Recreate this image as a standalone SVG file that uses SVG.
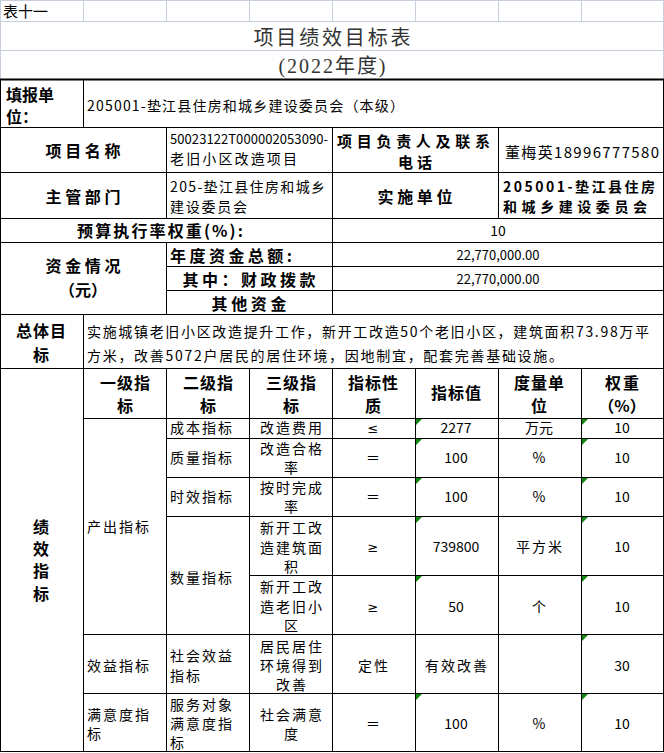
<svg xmlns="http://www.w3.org/2000/svg" width="664" height="753" viewBox="0 0 664 753">
<style>
text{font-family:"Noto Sans CJK SC","Noto Sans",sans-serif;fill:#000}
.n{font-size:14px}
.b{font-size:16px;font-weight:bold}
.c{text-anchor:middle}
.s{font-family:"DejaVu Sans","Liberation Sans",sans-serif;font-size:13px}
.g{stroke:#c6cfdc;stroke-width:1;fill:none}
.k{stroke:#000;stroke-width:1;fill:none}
.tri{fill:#118811}
</style>
<rect width="664" height="753" fill="#fff"/>
<g id="gridlines">
<path class="g" d="M0,0.5H664M0,21.5H664M0,50.5H664M0.5,0V79M663.5,0V79M83.5,0V21M166.5,0V21M249.5,0V21M332.5,0V21M415.5,0V21M498.5,0V21M581.5,0V21"/>
</g>
<g id="connectors">
<path class="k" d="M0,127.5H664M0,172.5H664M0,218.5H664M0,242.5H664M166,266.5H664M166,290.5H664M0,314.5H664M0,368.5H664M83,418.5H664M166,438.5H664M166,477.5H664M166,516.5H664M249,575.5H664M83,634.5H664M83,693.5H664M0,751.5H664"/>
<path class="k" d="M0.5,79V752M663.5,79V752M83.5,79V127M83.5,314V752M166.5,127V218M166.5,242V314M166.5,368V752M249.5,368V752M332.5,127V314M332.5,368V752M415.5,368V752M498.5,127V218M498.5,368V752M581.5,368V752"/>
<path d="M0,79.5H664" stroke="#000" stroke-width="2"/>
</g>
<g id="title">
<text x="3" y="17" class="n" style="font-size:15px">表十一</text>
<text x="332" y="45" class="c" style="font-size:20px;fill:#333" textLength="157">项目绩效目标表</text>
<text x="332" y="73" class="c" style="font-size:20px;fill:#333;font-family:'Liberation Serif','Noto Sans CJK SC',serif" textLength="107">(2022年度)</text>
</g>
<g id="unit">
<text x="6" y="101" class="b">填报单</text>
<text x="6" y="123" class="b">位：</text>
<text x="87" y="111" class="n" textLength="317">205001-垫江县住房和城乡建设委员会（本级）</text>
</g>
<g id="project">
<text x="83" y="157" class="b c" textLength="75">项目名称</text>
<text x="170" y="144" class="n" style="font-size:13px" textLength="158">50023122T000002053090-</text>
<text x="170" y="164" class="n" textLength="127">老旧小区改造项目</text>
<text x="337" y="147" class="b" style="font-size:15px" textLength="153">项目负责人及联系</text>
<text x="415" y="168" class="b c" style="font-size:15px" textLength="34">电话</text>
<text x="505" y="158" class="n" style="font-size:15px" textLength="154">董梅英18996777580</text>
</g>
<g id="dept">
<text x="83" y="203" class="b c" textLength="75">主管部门</text>
<text x="170" y="192" class="n" textLength="155">205-垫江县住房和城乡</text>
<text x="170" y="212" class="n" textLength="77">建设委员会</text>
<text x="415" y="203" class="b c" textLength="75">实施单位</text>
<text x="503" y="192" class="n" style="font-weight:bold" textLength="152">205001-垫江县住房</text>
<text x="503" y="212" class="n" style="font-weight:bold" textLength="144">和城乡建设委员会</text>
</g>
<g id="budget">
<text x="160" y="237" class="b c" textLength="166">预算执行率权重(%):</text>
<text x="498" y="236" class="n c">10</text>
</g>
<g id="funds">
<text x="83" y="272" class="b c" textLength="75">资金情况</text>
<text x="83" y="296" class="b c" textLength="48">（元）</text>
<text x="170" y="262" class="b" textLength="122">年度资金总额:</text>
<text x="249" y="286" class="b c" textLength="133">其中：财政拨款</text>
<text x="249" y="310" class="b c" textLength="75">其他资金</text>
<text x="498" y="260" class="n c" style="font-size:13px" textLength="83">22,770,000.00</text>
<text x="498" y="284" class="n c" style="font-size:13px" textLength="83">22,770,000.00</text>
</g>
<g id="goal">
<text x="41" y="337" class="b c" textLength="50">总体目</text>
<text x="41" y="361" class="b c">标</text>
<text x="87" y="337" class="n" textLength="562">实施城镇老旧小区改造提升工作，新开工改造50个老旧小区，建筑面积73.98万平</text>
<text x="87" y="361" class="n" textLength="476">方米，改善5072户居民的居住环境，因地制宜，配套完善基础设施。</text>
</g>
<g id="header">
<text x="125" y="389" class="b c" textLength="50">一级指</text>
<text x="125" y="412" class="b c">标</text>
<text x="208" y="389" class="b c" textLength="50">二级指</text>
<text x="208" y="412" class="b c">标</text>
<text x="291" y="389" class="b c" textLength="50">三级指</text>
<text x="291" y="412" class="b c">标</text>
<text x="373" y="389" class="b c" textLength="50">指标性</text>
<text x="373" y="412" class="b c">质</text>
<text x="456" y="399" class="b c" textLength="50">指标值</text>
<text x="539" y="389" class="b c" textLength="50">度量单</text>
<text x="539" y="412" class="b c">位</text>
<text x="622" y="389" class="b c" textLength="34">权重</text>
<text x="622" y="412" class="b c">（%）</text>
</g>
<g id="perf">
<text x="41" y="533" class="b c">绩</text>
<text x="41" y="555" class="b c">效</text>
<text x="41" y="577" class="b c">指</text>
<text x="41" y="600" class="b c">标</text>
<text x="87" y="532" class="n" textLength="62">产出指标</text>
</g>
<g id="row-cost">
<text x="170" y="433" class="n" textLength="62">成本指标</text>
<text x="291" y="433" class="n c" textLength="62">改造费用</text>
<text x="373" y="433" class="s c">≤</text>
<text x="456" y="433" class="n c">2277</text>
<text x="539" y="433" class="n c">万元</text>
<text x="622" y="433" class="n c">10</text>
</g>
<g id="row-quality">
<text x="170" y="463" class="n" textLength="62">质量指标</text>
<text x="291" y="454" class="n c" textLength="62">改造合格</text>
<text x="291" y="473" class="n c">率</text>
<text x="373" y="463" class="n c">＝</text>
<text x="456" y="463" class="n c">100</text>
<text x="539" y="463" class="n c">%</text>
<text x="622" y="463" class="n c">10</text>
</g>
<g id="row-time">
<text x="170" y="502" class="n" textLength="62">时效指标</text>
<text x="291" y="493" class="n c" textLength="62">按时完成</text>
<text x="291" y="512" class="n c">率</text>
<text x="373" y="502" class="n c">＝</text>
<text x="456" y="502" class="n c">100</text>
<text x="539" y="502" class="n c">%</text>
<text x="622" y="502" class="n c">10</text>
</g>
<g id="row-qty">
<text x="170" y="583" class="n" textLength="62">数量指标</text>
<text x="291" y="533" class="n c" textLength="62">新开工改</text>
<text x="291" y="553" class="n c" textLength="62">造建筑面</text>
<text x="291" y="572" class="n c">积</text>
<text x="373" y="552" class="s c">≥</text>
<text x="456" y="552" class="n c">739800</text>
<text x="539" y="552" class="n c" textLength="46">平方米</text>
<text x="622" y="552" class="n c">10</text>
<text x="291" y="592" class="n c" textLength="62">新开工改</text>
<text x="291" y="612" class="n c" textLength="62">造老旧小</text>
<text x="291" y="631" class="n c">区</text>
<text x="373" y="612" class="s c">≥</text>
<text x="456" y="612" class="n c">50</text>
<text x="539" y="612" class="n c">个</text>
<text x="622" y="612" class="n c">10</text>
</g>
<g id="row-benefit">
<text x="87" y="671" class="n" textLength="62">效益指标</text>
<text x="170" y="661" class="n" textLength="62">社会效益</text>
<text x="170" y="681" class="n" textLength="30">指标</text>
<text x="291" y="652" class="n c" textLength="62">居民居住</text>
<text x="291" y="671" class="n c" textLength="62">环境得到</text>
<text x="291" y="690" class="n c" textLength="30">改善</text>
<text x="373" y="671" class="n c" textLength="30">定性</text>
<text x="456" y="671" class="n c" textLength="62">有效改善</text>
<text x="622" y="671" class="n c">30</text>
</g>
<g id="row-satisfaction">
<text x="87" y="720" class="n" textLength="62">满意度指</text>
<text x="87" y="739" class="n">标</text>
<text x="170" y="710" class="n" textLength="62">服务对象</text>
<text x="170" y="729" class="n" textLength="62">满意度指</text>
<text x="170" y="748" class="n">标</text>
<text x="291" y="720" class="n c" textLength="62">社会满意</text>
<text x="291" y="739" class="n c">度</text>
<text x="373" y="729" class="n c">＝</text>
<text x="456" y="729" class="n c">100</text>
<text x="539" y="729" class="n c">%</text>
<text x="622" y="729" class="n c">10</text>
</g>
<g id="markers">
<path class="tri" d="M416,419h6l-6,6zM582,419h6l-6,6zM416,439h6l-6,6zM582,439h6l-6,6zM416,478h6l-6,6zM582,478h6l-6,6zM416,517h6l-6,6zM582,517h6l-6,6zM416,576h6l-6,6zM582,576h6l-6,6zM582,635h6l-6,6zM416,694h6l-6,6zM582,694h6l-6,6z"/>
</g>
</svg>
